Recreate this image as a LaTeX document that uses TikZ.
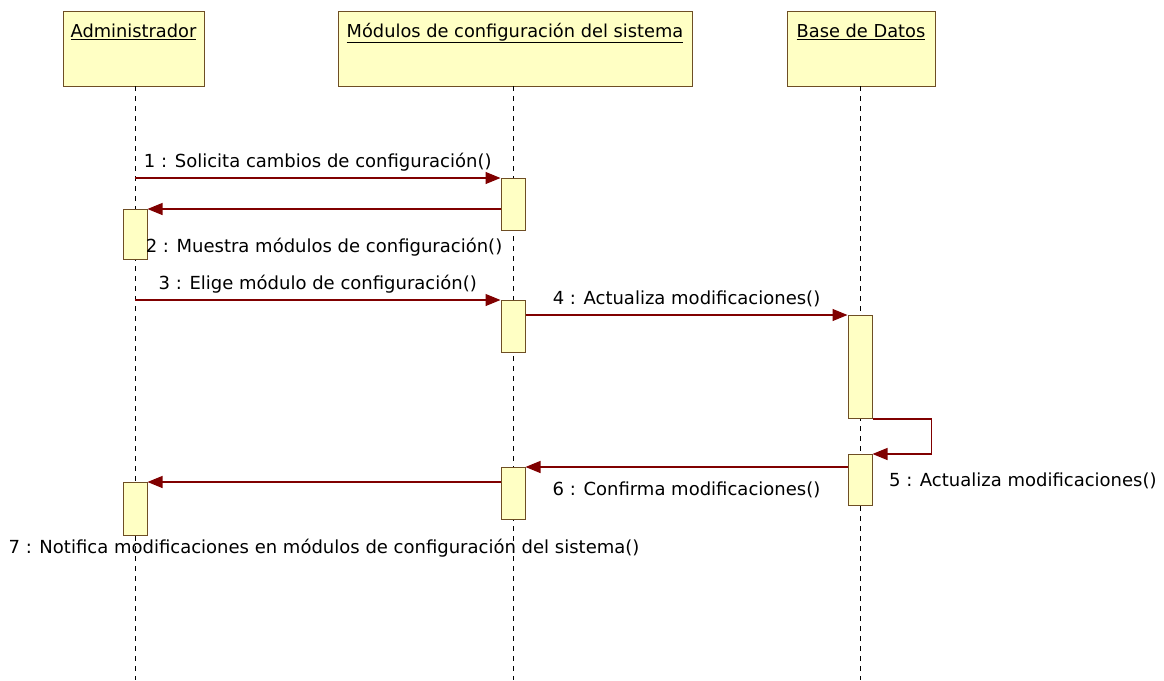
\documentclass[tikz,border=0pt]{standalone}
\usepackage{fontspec}
\setmainfont{DejaVu Sans}
\usetikzlibrary{arrows.meta}
\definecolor{boxyellow}{RGB}{255,255,196}
\definecolor{boxbrown}{RGB}{110,78,36}
\definecolor{msgred}{RGB}{128,0,0}
\begin{document}
\begin{tikzpicture}[x = 1pt, y = -1pt,
                    objeto/.style = {shape = rectangle,
                                     draw = boxbrown,
                                     fill = boxyellow,
                                     line width = 1pt,
                                     anchor = north,
                                     inner xsep = 0pt,
                                     inner ysep = 9pt,
                                     minimum height = 75pt,
                                     text height = 17pt,
                                     text depth = 40pt,
                                     font = \fontsize{17.8}{20}\selectfont},
                    activa/.style = {shape = rectangle,
                                     draw = boxbrown,
                                     fill = boxyellow,
                                     line width = 1pt,
                                     anchor = north,
                                     inner sep = 0pt,
                                     minimum width = 24pt},
                    vida/.style = {dashed,
                                   dash pattern = on 5pt off 5pt,
                                   line width = 0.8pt},
                    mensaje/.style = {draw = msgred,
                                      line width = 1.2pt,
                                      -{Triangle[length = 15pt, width = 12pt]}},
                    etiqueta/.style = {font = \fontsize{18}{20}\selectfont,
                                       inner sep = 0pt, text = black}]
		\useasboundingbox (0,0) rectangle (1164,680);
		\fill[white] (0,0) rectangle (1164,680);
		% objetos
		\node[objeto, minimum width = 141pt] (admin) at (133.5,11) {\underline{Administrador}};
		\node[objeto, minimum width = 354pt] (modulos) at (515,11) {\underline{Módulos de configuración del sistema}};
		\node[objeto, minimum width = 148pt] (bd) at (861,11) {\underline{Base de Datos}};
		% lineas de vida
		\draw[vida] (135,86) -- (135,680);
		\draw[vida] (513,86) -- (513,680);
		\draw[vida] (860,86) -- (860,680);
		% activaciones
		\node[activa, minimum height = 52pt] (m1) at (513,178) {};
		\node[activa, minimum height = 50pt] (a1) at (135,209) {};
		\node[activa, minimum height = 52pt] (m2) at (513,300) {};
		\node[activa, minimum height = 103pt] (b1) at (860,315) {};
		\node[activa, minimum height = 51pt] (b2) at (860,454) {};
		\node[activa, minimum height = 52pt] (m3) at (513,467) {};
		\node[activa, minimum height = 53pt] (a2) at (135,482) {};
		\coordinate (s1) at (135,178);
		\coordinate (s3) at (135,300);
		% mensajes
		\draw[mensaje] (s1) -- node[etiqueta, midway, yshift = 16pt] {1 : Solicita cambios de configuración()} (m1.north west);
		\draw[mensaje] (m1.west |- a1.north) -- node[etiqueta, midway, yshift = -38pt] {2 : Muestra módulos de configuración()} (a1.north east);
		\draw[mensaje] (s3) -- node[etiqueta, midway, yshift = 16pt] {3 : Elige módulo de configuración()} (m2.north west);
		\draw[mensaje] (m2.east |- b1.north) -- node[etiqueta, midway, yshift = 16pt] {4 : Actualiza modificaciones()} (b1.north west);
		\draw[mensaje] (b1.south east) -- ++(59,0) |- (b2.north east)
			node[etiqueta, anchor = west, xshift = 16pt, yshift = -27pt] {5 : Actualiza modificaciones()};
		\draw[mensaje] (b2.west |- m3.north) -- node[etiqueta, midway, yshift = -23pt] {6 : Confirma modificaciones()} (m3.north east);
		\draw[mensaje] (m3.west |- a2.north) -- node[etiqueta, midway, yshift = -66pt] {7 : Notifica modificaciones en módulos de configuración del sistema()} (a2.north east);
	\end{tikzpicture}
\end{document}
